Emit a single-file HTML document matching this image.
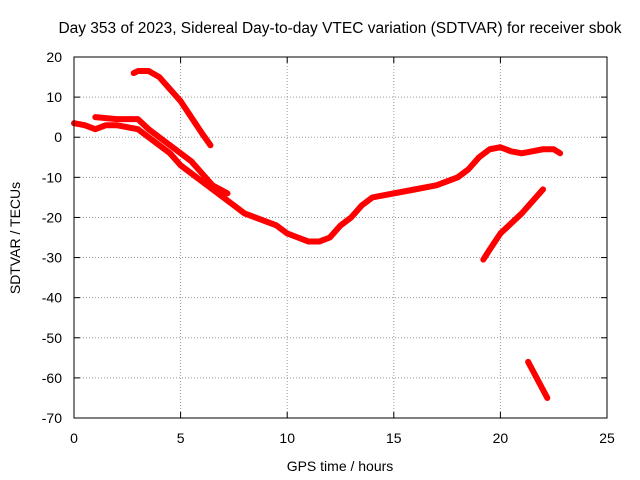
<!DOCTYPE html>
<html><head><meta charset="utf-8"><style>
body{margin:0;background:#fff;}
svg{display:block;font-family:"Liberation Sans",sans-serif;}
</style></head><body>
<svg id="chart" width="640" height="480">
<text x="340" y="33" font-size="15.5" text-anchor="middle">Day 353 of 2023, Sidereal Day-to-day VTEC variation (SDTVAR) for receiver sbok</text>
<text x="340" y="471" font-size="14" text-anchor="middle">GPS time / hours</text>
<text x="20" y="238" font-size="14" text-anchor="middle" transform="rotate(-90 20 238)">SDTVAR / TECUs</text>
<g id="grid"></g><g id="ticks"></g><g id="series"></g>
<rect x="74" y="57" width="533" height="361" fill="none" stroke="#000"/>
</svg>
<script>
const xTicks=[0,5,10,15,20,25];
const yTicks=[20,10,0,-10,-20,-30,-40,-50,-60,-70];
const mainX=[0,0.5,1,1.5,2,2.5,3,3.5,4,4.5,5,5.5,6,6.5,7,7.5,8,8.5,9,9.5,10,10.5,11,11.5,12,12.5,13,13.5,14,15,16,17,18,18.5,19,19.5,20,20.5,21,21.5,22,22.5,22.8];
const mainY=[3.5,3,2,3,3,2.5,2,0,-2,-4,-7,-9,-11,-13,-15,-17,-19,-20,-21,-22,-24,-25,-26,-26,-25,-22,-20,-17,-15,-14,-13,-12,-10,-8,-5,-3,-2.5,-3.5,-4,-3.5,-3,-3,-4];
const branchX=[1,2,3,3.5,4,4.5,5,5.5,6,6.5,7.2];
const branchY=[5,4.5,4.5,2,0,-2,-4,-6,-9,-12,-14];
const upperX=[2.8,3,3.5,4,4.5,5,5.5,6,6.4];
const upperY=[16,16.5,16.5,15,12,9,5,1,-2];
const lateX=[19.2,19.5,20,20.5,21,21.5,22];
const lateY=[-30.5,-28,-24,-21.5,-19,-16,-13];
const lowX=[21.3,21.6,22,22.2];
const lowY=[-56,-59,-63,-65];
const NS="http://www.w3.org/2000/svg";
const X=v=>74+v*533/25, Y=v=>57+(20-v)*361/90;
const grid=document.getElementById('grid'),ticks=document.getElementById('ticks'),ser=document.getElementById('series');
function mk(t,a,p){const e=document.createElementNS(NS,t);for(const k in a)e.setAttribute(k,a[k]);p.appendChild(e);return e;}
xTicks.forEach(v=>{
 if(v>0&&v<25){const g=mk('line',{x1:X(v),x2:X(v),y1:57,y2:418,stroke:'#999','stroke-dasharray':'1,2'},grid);
 
 }
 const t=mk('text',{x:X(v),y:443,'font-size':14,'text-anchor':'middle'},ticks);t.textContent=v;
 
 
 mk('line',{x1:X(v),x2:X(v),y1:418,y2:412,stroke:'#000'},ticks);mk('line',{x1:X(v),x2:X(v),y1:57,y2:63,stroke:'#000'},ticks);
});
yTicks.forEach(v=>{
 if(v<20&&v>-70){const g=mk('line',{x1:74,x2:607,y1:Y(v),y2:Y(v),stroke:'#999','stroke-dasharray':'1,2'},grid);
 
 }
 const t=mk('text',{x:62,y:Y(v)+5,'font-size':14,'text-anchor':'end'},ticks);t.textContent=v;
 
 
 mk('line',{x1:74,x2:80,y1:Y(v),y2:Y(v),stroke:'#000'},ticks);mk('line',{x1:607,x2:601,y1:Y(v),y2:Y(v),stroke:'#000'},ticks);
});
function draw(xs,ys,name){
 const p=mk('polyline',{points:xs.map((x,i)=>X(x)+','+Y(ys[i])).join(' '),fill:'none',stroke:'#f00','stroke-width':6,'stroke-linejoin':'round','stroke-linecap':'round'},ser);
 
 
}
draw(mainX,mainY,'series-main');
draw(branchX,branchY,'series-branch');
draw(upperX,upperY,'series-upper');
draw(lateX,lateY,'series-late');
draw(lowX,lowY,'series-low');
</script>
</body></html>
